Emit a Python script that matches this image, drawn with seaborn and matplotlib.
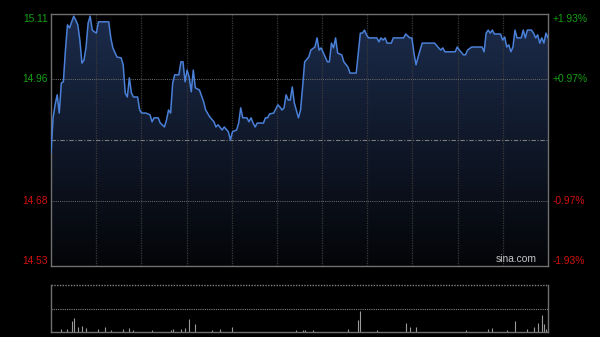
import numpy as np
import matplotlib
matplotlib.use("Agg")
import matplotlib.pyplot as plt
import seaborn as sns
import pandas as pd
from matplotlib.colors import LinearSegmentedColormap

# ---- data (minute offset from open, price) ----
minutes = [0, 1, 2, 3, 4, 5, 6, 7, 8, 9, 11, 12, 13, 14, 15, 16, 17, 18, 19, 20,
           21, 22, 23, 25, 28, 29, 30, 32, 34, 35, 36, 37, 38, 39, 40, 42, 43, 44, 46, 48,
           49, 50, 52, 53, 55, 56, 57, 58, 59, 60, 62, 63, 64, 65, 66, 67, 68, 69, 70, 72,
           74, 75, 77, 79, 80, 81, 83, 84, 86, 87, 88, 90, 91, 92, 93, 95, 96, 97, 98, 99,
           100, 103, 104, 105, 106, 108, 110, 111, 112, 113, 114, 115, 116, 117, 118, 120, 121, 122, 123, 125,
           126, 128, 129, 130, 131, 133, 134, 135, 136, 137, 138, 139, 141, 142, 144, 145, 148, 149, 150, 151,
           152, 153, 154, 158, 159, 160, 161, 162, 163, 165, 166, 171, 172, 174, 175, 176, 177, 178, 180, 186,
           188, 189, 190, 191, 196, 197, 198, 200, 201, 202, 204, 209, 210, 211, 212, 213, 214, 215, 218, 219,
           220, 221, 222, 223, 224, 225, 226, 228, 229, 230, 231, 233, 234, 235, 236, 237, 238, 239, 240, 241]
prices = [14.790, 14.871, 14.901, 14.924, 14.882, 14.951, 14.954, 15.027, 15.085, 15.078,
          15.105, 15.096, 15.085, 15.050, 14.997, 15.004, 15.034, 15.089, 15.105, 15.073,
          15.069, 15.066, 15.092, 15.092, 15.092, 15.055, 15.032, 15.011, 15.009, 14.993,
          14.928, 14.919, 14.963, 14.928, 14.919, 14.919, 14.889, 14.882, 14.882, 14.878,
          14.862, 14.871, 14.871, 14.859, 14.850, 14.866, 14.889, 14.882, 14.951, 14.970,
          14.970, 15.000, 15.000, 14.954, 14.981, 14.965, 14.931, 14.981, 14.940, 14.935,
          14.908, 14.889, 14.873, 14.862, 14.850, 14.855, 14.843, 14.850, 14.839, 14.820,
          14.839, 14.843, 14.859, 14.894, 14.871, 14.871, 14.862, 14.871, 14.859, 14.850,
          14.859, 14.859, 14.871, 14.871, 14.880, 14.882, 14.901, 14.896, 14.889, 14.894,
          14.924, 14.912, 14.912, 14.942, 14.905, 14.871, 14.889, 14.942, 15.000, 15.011,
          15.027, 15.034, 15.055, 15.027, 15.032, 15.011, 15.000, 15.000, 15.043, 15.032,
          15.055, 15.020, 15.016, 15.000, 14.988, 14.974, 14.974, 15.020, 15.066, 15.066,
          15.073, 15.062, 15.055, 15.055, 15.046, 15.055, 15.050, 15.055, 15.043, 15.043,
          15.055, 15.055, 15.064, 15.055, 15.055, 15.020, 14.993, 15.011, 15.043, 15.043,
          15.032, 15.027, 15.032, 15.023, 15.023, 15.034, 15.027, 15.016, 15.016, 15.027,
          15.034, 15.034, 15.023, 15.066, 15.073, 15.066, 15.073, 15.064, 15.064, 15.050,
          15.057, 15.034, 15.039, 15.023, 15.034, 15.073, 15.055, 15.055, 15.073, 15.055,
          15.073, 15.073, 15.066, 15.055, 15.062, 15.043, 15.055, 15.043, 15.066, 15.055]

vol_minutes = [5, 8, 10, 11, 13, 15, 17, 23, 26, 29, 35, 38, 40, 49, 58, 59, 63, 65, 67, 70,
               78, 82, 88, 119, 122, 123, 127, 144, 149, 150, 158, 172, 174, 177, 201, 212, 214, 221, 225, 231,
               234, 236, 238, 239, 240, 241]
vol_values = [900, 900, 3300, 4200, 1500, 1800, 1200, 900, 1500, 600, 900, 1200, 600, 600, 600, 900, 900, 1200, 3900, 2400,
              600, 900, 1500, 600, 600, 600, 600, 900, 3600, 6300, 600, 2700, 1500, 1500, 600, 900, 1200, 600, 3300, 900,
              1500, 2700, 5100, 2400, 900, 600]

prev_close = 14.82
y_low, y_high = 14.53, 15.11
left_vals = [15.11, 14.96, 14.68, 14.53]
left_labels = ["15.11", "14.96", "14.68", "14.53"]
right_labels = ["+1.93%", "+0.97%", "-0.97%", "-1.93%"]
label_colors = ["#15a015", "#15a015", "#d41010", "#d41010"]
n_minutes = 241

sns.set_theme(style="dark")
plt.rcParams['font.family'] = ['Liberation Sans', 'DejaVu Sans']

fig = plt.figure(figsize=(6, 3.37), dpi=100, facecolor='black')
ax = fig.add_axes([51/600, 1-266/337, 497/600, 252/337])
axv = fig.add_axes([51/600, 1-332/337, 497/600, 47/337])

df = pd.DataFrame({"minute": minutes, "price": prices})

for a in (ax, axv):
    a.set_facecolor('black')
    a.set_xticks([])
    a.set_yticks([])
    a.set_xlabel("")
    a.set_ylabel("")
    a.grid(False)

# gradient fill under price line
poly = ax.fill_between(df["minute"], df["price"], y_low, color='none', lw=0)
grad = np.linspace(1, 0, 256).reshape(-1, 1)
cmap = LinearSegmentedColormap.from_list('g', ['#040508', '#1c2c4c'])
im = ax.imshow(grad, aspect='auto', cmap=cmap, extent=[0, n_minutes, y_low, y_high],
               origin='upper', zorder=1, interpolation='bilinear')
im.set_clip_path(poly.get_paths()[0], transform=ax.transData)

# grid
grid_x = np.linspace(0, n_minutes, 12)[1:-1]
ax.vlines(grid_x, y_low, y_high, colors='#3a3a3a', linestyles=(0, (1, 1)), lw=0.9, zorder=2)
for v in (left_vals[1], left_vals[2]):
    ax.axhline(v, color='#707070', ls=(0, (1, 1.2)), lw=0.7, zorder=2)
ax.axhline(prev_close, color='#7a7a7a', ls=(0, (4, 1.5, 1, 1.5)), lw=0.8, zorder=2)

sns.lineplot(data=df, x="minute", y="price", ax=ax, color='#4a80d8', linewidth=1.1, zorder=3)
ax.set_xlim(0, n_minutes)
ax.set_ylim(y_low, y_high)
ax.set_xticks([])
ax.set_yticks([])
ax.set_xlabel("")
ax.set_ylabel("")

for s in ax.spines.values():
    s.set_color('#707070')
    s.set_linewidth(1.0)
    s.set_visible(True)

# labels
tr = ax.get_yaxis_transform()
vas = ['top', 'center', 'center', 'bottom']
for v, lab, rl, c, va in zip(left_vals, left_labels, right_labels, label_colors, vas):
    ax.text(-0.006, v, lab, transform=tr, ha='right', va=va, color=c, fontsize=7.4)
    ax.text(1.01, v, rl, transform=tr, ha='left', va=va, color=c, fontsize=7.4)

ax.text(0.978, 0.006, "sina.com", transform=ax.transAxes, ha='right', va='bottom',
        color='#c4c4c4', fontsize=7.4, zorder=4)

# volume panel
vol_max = 14100
axv.vlines(vol_minutes, 0, vol_values, colors='#9a9a9a', lw=0.8)
axv.set_xlim(0, n_minutes)
axv.set_ylim(0, vol_max)
axv.axhline(vol_max / 2, color='#808080', ls=(0, (1, 1)), lw=0.8)
axv.axhline(vol_max, color='#808080', ls=(0, (1, 1)), lw=1.0, clip_on=False)
axv.spines['top'].set_visible(False)
for k in ('left', 'right', 'bottom'):
    axv.spines[k].set_color('#707070')
    axv.spines[k].set_linewidth(1.0)
    axv.spines[k].set_visible(True)

fig.savefig("out.png", dpi=100, facecolor='black')
